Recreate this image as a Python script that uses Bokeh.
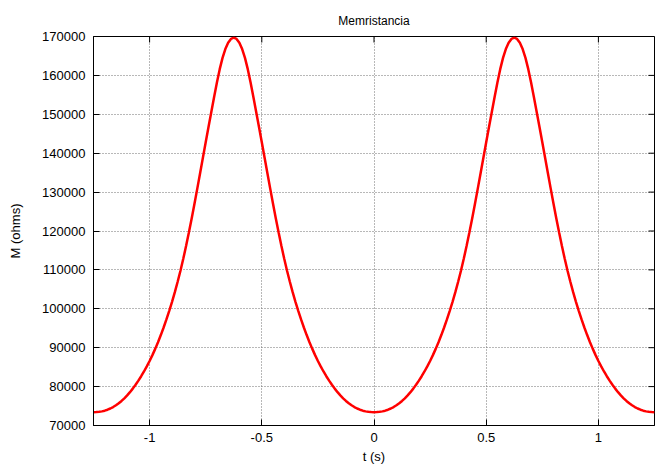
import math
from bokeh.plotting import figure
from bokeh.models import Range1d, FixedTicker, NumeralTickFormatter
from bokeh.embed import file_html
from bokeh.resources import INLINE

# time samples (s)
t = [-1.25, -1.2375, -1.225, -1.2125, -1.2, -1.1875, -1.175, -1.1625,
     -1.15, -1.1375, -1.125, -1.1125, -1.1, -1.0875, -1.075, -1.0625,
     -1.05, -1.0375, -1.025, -1.0125, -1.0, -0.9875, -0.975, -0.9625,
     -0.95, -0.9375, -0.925, -0.9125, -0.9, -0.8875, -0.875, -0.8625,
     -0.85, -0.8375, -0.825, -0.8125, -0.8, -0.7875, -0.775, -0.7625,
     -0.75, -0.7375, -0.725, -0.7125, -0.7, -0.6875, -0.675, -0.6625,
     -0.65, -0.6375, -0.625, -0.6125, -0.6, -0.5875, -0.575, -0.5625,
     -0.55, -0.5375, -0.525, -0.5125, -0.5, -0.4875, -0.475, -0.4625,
     -0.45, -0.4375, -0.425, -0.4125, -0.4, -0.3875, -0.375, -0.3625,
     -0.35, -0.3375, -0.325, -0.3125, -0.3, -0.2875, -0.275, -0.2625,
     -0.25, -0.2375, -0.225, -0.2125, -0.2, -0.1875, -0.175, -0.1625,
     -0.15, -0.1375, -0.125, -0.1125, -0.1, -0.0875, -0.075, -0.0625,
     -0.05, -0.0375, -0.025, -0.0125, 0.0, 0.0125, 0.025, 0.0375,
     0.05, 0.0625, 0.075, 0.0875, 0.1, 0.1125, 0.125, 0.1375,
     0.15, 0.1625, 0.175, 0.1875, 0.2, 0.2125, 0.225, 0.2375,
     0.25, 0.2625, 0.275, 0.2875, 0.3, 0.3125, 0.325, 0.3375,
     0.35, 0.3625, 0.375, 0.3875, 0.4, 0.4125, 0.425, 0.4375,
     0.45, 0.4625, 0.475, 0.4875, 0.5, 0.5125, 0.525, 0.5375,
     0.55, 0.5625, 0.575, 0.5875, 0.6, 0.6125, 0.625, 0.6375,
     0.65, 0.6625, 0.675, 0.6875, 0.7, 0.7125, 0.725, 0.7375,
     0.75, 0.7625, 0.775, 0.7875, 0.8, 0.8125, 0.825, 0.8375,
     0.85, 0.8625, 0.875, 0.8875, 0.9, 0.9125, 0.925, 0.9375,
     0.95, 0.9625, 0.975, 0.9875, 1.0, 1.0125, 1.025, 1.0375,
     1.05, 1.0625, 1.075, 1.0875, 1.1, 1.1125, 1.125, 1.1375,
     1.15, 1.1625, 1.175, 1.1875, 1.2, 1.2125, 1.225, 1.2375,
     1.25]

# memristance (ohms)
M = [73426, 73446, 73512, 73633, 73814, 74058, 74368, 74747, 75196, 75719,
     76317, 76990, 77741, 78570, 79479, 80467, 81530, 82668, 83887, 85193,
     86593, 88093, 89699, 91418, 93249, 95199, 97274, 99474, 101805, 104286,
     106942, 109792, 112848, 116117, 119586, 123230, 127014, 130898, 134861, 138845,
     142798, 146720, 150611, 154436, 158155, 161605, 164518, 166781, 168400, 169375,
     169700, 169375, 168400, 166781, 164518, 161605, 158155, 154436, 150611, 146720,
     142798, 138845, 134861, 130898, 127014, 123230, 119586, 116117, 112848, 109792,
     106942, 104286, 101805, 99474, 97274, 95199, 93249, 91418, 89699, 88093,
     86593, 85193, 83887, 82668, 81530, 80467, 79479, 78570, 77741, 76990,
     76317, 75719, 75196, 74747, 74368, 74058, 73814, 73633, 73512, 73446,
     73426, 73446, 73512, 73633, 73814, 74058, 74368, 74747, 75196, 75719,
     76317, 76990, 77741, 78570, 79479, 80467, 81530, 82668, 83887, 85193,
     86593, 88093, 89699, 91418, 93249, 95199, 97274, 99474, 101805, 104286,
     106942, 109792, 112848, 116117, 119586, 123230, 127014, 130898, 134861, 138845,
     142798, 146720, 150611, 154436, 158155, 161605, 164518, 166781, 168400, 169375,
     169700, 169375, 168400, 166781, 164518, 161605, 158155, 154436, 150611, 146720,
     142798, 138845, 134861, 130898, 127014, 123230, 119586, 116117, 112848, 109792,
     106942, 104286, 101805, 99474, 97274, 95199, 93249, 91418, 89699, 88093,
     86593, 85193, 83887, 82668, 81530, 80467, 79479, 78570, 77741, 76990,
     76317, 75719, 75196, 74747, 74368, 74058, 73814, 73633, 73512, 73446,
     73426]

x_min, x_max = -1.25, 1.25
y_min, y_max = 70000, 170000
x_ticks = [-1, -0.5, 0, 0.5, 1]
x_labels = {-1: "-1", -0.5: "-0.5", 0: "0", 0.5: "0.5", 1: "1"}
y_ticks = [70000, 80000, 90000, 100000, 110000, 120000, 130000, 140000, 150000, 160000, 170000]

FONT = "Liberation Sans"

p = figure(width=664, height=468, output_backend="svg", toolbar_location=None,
           x_range=Range1d(x_min, x_max), y_range=Range1d(y_min, y_max),
           title="Memristancia", x_axis_label="t (s)", y_axis_label="M (ohms)",
           min_border_left=93, min_border_right=10, min_border_top=36, min_border_bottom=43)

p.title.align = "center"
p.title.text_font = FONT
p.title.text_font_size = "12px"
p.title.text_font_style = "normal"
p.title.text_color = "#000000"
p.title.offset = 0
p.title.standoff = 17

p.line(t, M, line_color="#ff0000", line_width=2.5)

for ax in (p.xaxis[0], p.yaxis[0]):
    ax.major_tick_in = 6
    ax.major_tick_out = 0
    ax.minor_tick_in = 0
    ax.minor_tick_out = 0
    ax.axis_line_color = "#000000"
    ax.major_tick_line_color = "#000000"
    ax.major_label_text_font = FONT
    ax.major_label_text_font_size = "13px"
    ax.major_label_text_color = "#000000"
    ax.axis_label_text_font = FONT
    ax.axis_label_text_font_size = "13px"
    ax.axis_label_text_font_style = "normal"
    ax.axis_label_text_color = "#000000"

p.xaxis[0].ticker = FixedTicker(ticks=x_ticks)
p.xaxis[0].major_label_overrides = x_labels
p.xaxis[0].major_label_standoff = 7
p.xaxis[0].axis_label_standoff = 4
p.yaxis[0].ticker = FixedTicker(ticks=y_ticks)
p.yaxis[0].formatter = NumeralTickFormatter(format="0")
p.yaxis[0].major_label_standoff = 8
p.yaxis[0].axis_label_standoff = 16

# mirrored inward ticks on top and right edges of the frame
p.scatter(x=x_ticks, y=[y_max] * len(x_ticks), marker="dash", angle=math.pi / 2,
          size=12, line_color="#000000", line_width=1)
p.scatter(x=[x_max] * len(y_ticks), y=y_ticks, marker="dash",
          size=12, line_color="#000000", line_width=1)

p.xgrid.ticker = FixedTicker(ticks=x_ticks)
p.ygrid.ticker = FixedTicker(ticks=y_ticks)
for g in (p.xgrid[0], p.ygrid[0]):
    g.grid_line_color = "#707070"
    g.grid_line_dash = "1 2"
    g.grid_line_width = 1

p.outline_line_color = "#000000"
p.outline_line_width = 1
p.background_fill_color = "#ffffff"
p.border_fill_color = "#ffffff"

open("out.html", "w").write(file_html(p, INLINE))
